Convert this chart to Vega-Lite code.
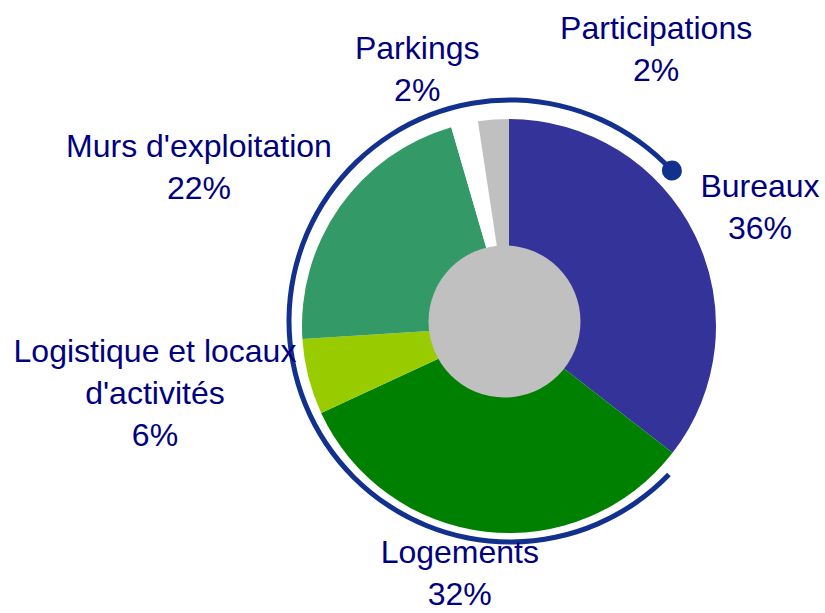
{
  "$schema": "https://vega.github.io/schema/vega-lite/v6.json",
  "width": 414,
  "height": 414,
  "autosize": {"type": "none"},
  "padding": {"left": 302, "top": 119, "right": 109, "bottom": 80},
  "background": "white",
  "config": {"view": {"stroke": null}},
  "datasets": {
    "slices": [
      {"ord": 1, "cat": "Bureaux", "value": 35.5, "label": "Bureaux\n36%"},
      {"ord": 2, "cat": "Logements", "value": 32.6, "label": "Logements\n32%"},
      {"ord": 3, "cat": "Logistique et locaux d'activités", "value": 5.9, "label": "Logistique et locaux\nd'activités\n6%"},
      {"ord": 4, "cat": "Murs d'exploitation", "value": 21.5, "label": "Murs d'exploitation\n22%"},
      {"ord": 5, "cat": "Parkings", "value": 2.1, "label": "Parkings\n2%"},
      {"ord": 6, "cat": "Participations", "value": 2.4, "label": "Participations\n2%"}
    ]
  },
  "layer": [
    {
      "data": {"name": "slices"},
      "mark": {"type": "arc", "outerRadius": 207},
      "encoding": {
        "theta": {"field": "value", "type": "quantitative", "stack": true},
        "order": {"field": "ord", "type": "quantitative"},
        "color": {
          "field": "cat",
          "type": "nominal",
          "scale": {
            "domain": ["Bureaux", "Logements", "Logistique et locaux d'activités", "Murs d'exploitation", "Parkings", "Participations"],
            "range": ["#333399", "#008000", "#99CC00", "#339966", "#FFFFFF", "#C0C0C0"]
          },
          "legend": null
        }
      }
    },
    {
      "data": {"values": [{"part": "centre"}]},
      "mark": {"type": "arc", "theta": 0, "theta2": 6.2832, "innerRadius": 0, "outerRadius": 76, "xOffset": -4.5, "yOffset": -4.5, "color": "#C0C0C0"},
      "encoding": {}
    },
    {
      "data": {"values": [{"part": "bracket"}]},
      "mark": {"type": "arc", "theta": 2.339, "theta2": 7.105, "innerRadius": 218.5, "outerRadius": 223.5, "xOffset": 1, "yOffset": -5, "color": "#12318E"},
      "encoding": {}
    },
    {
      "data": {"values": [{"part": "dot"}]},
      "mark": {"type": "arc", "theta": 0.7768, "theta2": 0.8673, "innerRadius": 211, "outerRadius": 231, "cornerRadius": 10, "xOffset": 1, "yOffset": -5, "color": "#12318E"},
      "encoding": {}
    },
    {
      "data": {"name": "slices"},
      "mark": {
        "type": "text",
        "radius": 250,
        "font": "Liberation Sans",
        "fontSize": 32,
        "lineHeight": 42,
        "lineBreak": "\n",
        "align": "center",
        "baseline": "alphabetic",
        "color": "#000080",
        "dx": {"expr": "datum.cat == 'Bureaux' ? 26.5 : datum.cat == 'Logements' ? -21 : datum.cat == 'Parkings' ? -38 : datum.cat == 'Participations' ? 166 : datum.cat == 'Murs d\\'exploitation' ? -105.5 : -111.7"},
        "dy": {"expr": "datum.cat == 'Bureaux' ? -19 : datum.cat == 'Logements' ? -11 : datum.cat == 'Parkings' ? -23 : datum.cat == 'Participations' ? -38 : datum.cat == 'Murs d\\'exploitation' ? -25.2 : -25.4"}
      },
      "encoding": {
        "theta": {"field": "value", "type": "quantitative", "stack": true},
        "order": {"field": "ord", "type": "quantitative"},
        "detail": {"field": "cat", "type": "nominal"},
        "text": {"field": "label", "type": "nominal"}
      }
    }
  ]
}
